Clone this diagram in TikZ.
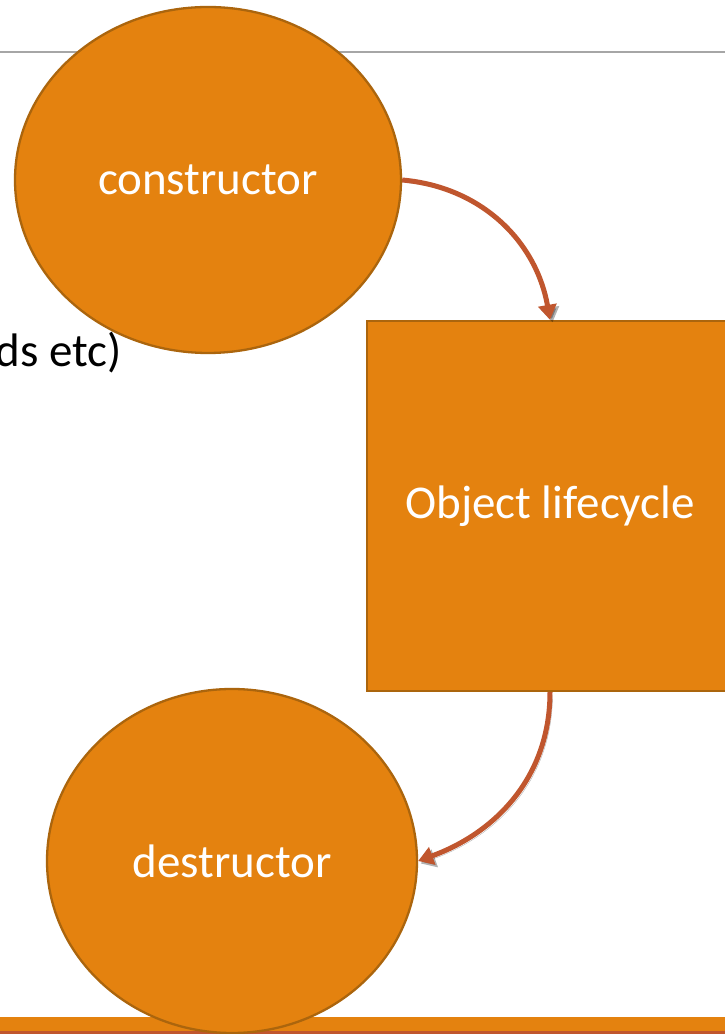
\documentclass[tikz,border=0pt]{standalone}
\usepackage{fontspec}
\setmainfont{Carlito}
\usetikzlibrary{shapes.geometric,arrows.meta}
\definecolor{lcorange}{HTML}{E4820F}
\definecolor{lcedge}{HTML}{AB650D}
\definecolor{lcarrow}{HTML}{C0562E}
\definecolor{lcgray}{HTML}{A6A6A6}

\begin{document}
\begin{tikzpicture}[x=1pt, y=1pt,
		font=\fontsize{47}{56}\selectfont,
		blob/.style={ellipse, draw=lcedge, line width=2.3pt, fill=lcorange, text=white, inner sep=0pt},
		lifebox/.style={rectangle, draw=lcedge, line width=2.3pt, fill=lcorange, text=white, inner sep=0pt},
		lifeflow/.style={draw=lcarrow, line width=5pt, -{Triangle[length=15pt,width=18pt]},
			preaction={draw=black, opacity=.3, transform canvas={shift={(2.5pt,-2.5pt)}}}}]
				\clip (0,0) rectangle (725,1034);
				\fill[white] (0,0) rectangle (725,1034);
				\draw[lcgray, line width=1.5pt] (0,982) -- (725,982);
				\node[anchor=base east, inner sep=0pt] (etc) at (122,667) {ds etc)};
				\node[blob, minimum width=386pt, minimum height=346pt] (ctor) at (208,854) {constructor};
				\node[lifebox, minimum width=366pt, minimum height=370pt] (life) at (550,528) {Object lifecycle};
				\fill[lcarrow] (0,0) rectangle (725,3);
				\fill[lcorange] (0,3) rectangle (725,17);
				\node[blob, minimum width=370pt, minimum height=344pt] (dtor) at (232,173) {destructor};
				\draw[lifeflow] (ctor.east) to[out=-5, in=100] (life.north);
				\draw[lifeflow] (life.south) to[out=-90, in=20] (dtor.east);
			\end{tikzpicture}
\end{document}
